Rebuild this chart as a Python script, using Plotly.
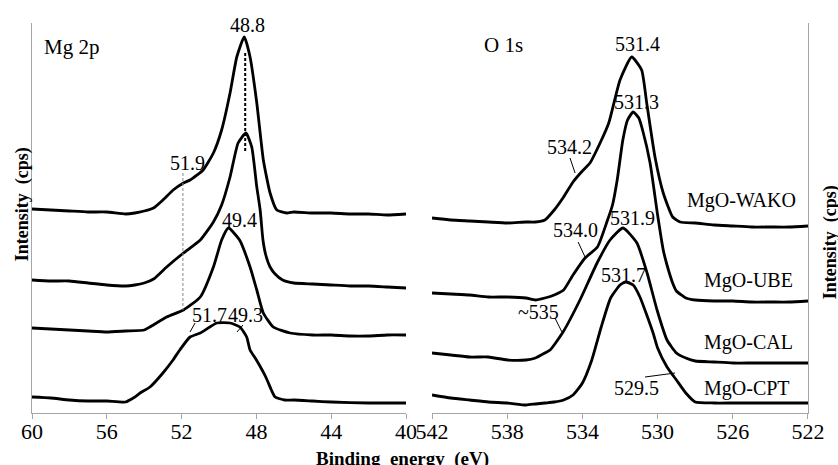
import plotly.graph_objects as go

# ---------------- data (Mg 2p panel) ----------------
mg_wako_e = [60, 59, 58, 57, 56, 55, 54.5, 54, 53.5, 53, 52.45, 51.9, 51.55, 50.85, 50.3, 49.86, 49.41, 49.05,
             48.65, 48.34, 47.98, 47.63, 47.27, 46.91, 46.38, 46, 45, 44, 43, 42, 41, 40]
mg_wako_i = [204, 203, 202, 201, 201, 199, 200, 202, 205, 213, 223, 230, 233, 243, 260, 283, 320, 356,
             376, 356, 310, 253, 220, 203, 200, 201, 200, 200, 199, 199, 198, 199]

mg_ube_e = [60, 59, 58, 57, 56, 55, 54.5, 54, 53.5, 52.8, 51.9, 51.0, 50.3, 49.86, 49.41, 48.98, 48.56, 48.25,
            47.98, 47.8, 47.65, 47.5, 47.27, 47, 46.6, 46, 45, 44, 43, 42, 41, 40]
mg_ube_i = [133, 132, 132, 130, 128, 127, 128, 130, 134, 146, 160, 173, 191, 208, 236, 270, 280, 266,
            226, 203, 173, 158, 146, 139, 133, 130, 129, 128, 127, 127, 126, 125]

mg_cal_e = [60, 59, 58, 57, 56, 55, 54, 53.7, 52.8, 51.9, 51.0, 50.3, 49.86, 49.5, 48.9, 48.34, 47.98, 47.63,
            47.1, 46.2, 45, 44, 43, 42, 41, 40]
mg_cal_i = [85, 84, 83, 82, 81, 82, 83, 86, 96, 103, 116, 146, 173, 185, 173, 146, 123, 100,
            86, 80, 78, 78, 77, 77, 78, 78]

mg_cpt_e = [60, 59, 58, 57, 56, 55, 54.5, 54.22, 53.69, 53.0, 52.46, 52.1, 51.55, 51.0, 50.12, 49.41, 48.88,
            48.52, 48.34, 48.0, 47.5, 47.2, 47.0, 46.5, 46, 45, 44, 42, 40]
mg_cpt_i = [16, 15, 13, 12, 12, 11, 16, 20, 26, 40, 53, 63, 76, 80, 90, 90, 86,
            76, 63, 53, 36, 23, 16, 13, 13, 12, 11, 10, 10]

# ---------------- data (O 1s panel) ----------------
o_wako_e = [542, 541, 540, 539, 538, 537, 536.5, 536, 535.5, 535, 534.5, 534.1, 533.6, 533.06, 532.6, 532,
            531.38, 530.85, 530.58, 530.14, 529.7, 529.2, 528.8, 528, 527, 526, 525, 524, 523, 522]
o_wako_i = [195, 193, 192, 191, 190, 191, 191, 193, 203, 216, 231, 240, 250, 270, 290, 333,
            356, 343, 310, 256, 220, 196, 191, 190, 188, 187, 186, 186, 186, 187]

o_ube_e = [542, 541, 540, 539, 538, 537, 536.5, 536, 535.5, 535, 534.5, 533.86, 533.2, 532.7, 532.4, 532.15,
           531.85, 531.6, 531.3, 531.0, 530.8, 530.4, 530.0, 529.7, 529.5, 529.2, 529.0, 528.5, 528, 527,
           526, 525, 524, 523, 522]
o_ube_i = [120, 119, 118, 116, 116, 115, 113, 115, 118, 123, 138, 155, 166, 191, 208, 233,
           273, 293, 301, 295, 283, 250, 198, 163, 148, 130, 122, 115, 113, 112,
           112, 111, 111, 111, 112]

o_cal_e = [542, 541, 540, 539, 538, 537, 536.5, 536, 535.72, 535.03, 534.13, 533.22, 532.53, 531.84, 531.1,
           530.56, 530.03, 529.5, 529.0, 528.5, 528, 527, 526, 525, 524, 523, 522]
o_cal_i = [60, 58, 56, 56, 53, 53, 55, 60, 63, 81, 113, 150, 173, 185, 170,
           140, 103, 73, 60, 55, 52, 51, 50, 50, 50, 50, 50]

o_cpt_e = [542, 541, 540, 539, 538, 537, 536.5, 536, 535.5, 535, 534.5, 534, 533.5, 533, 532.5, 532, 531.7,
           531.3, 530.94, 530.24, 530, 529.5, 529, 528.5, 528, 527, 526, 525, 524, 523, 522]
o_cpt_i = [18, 15, 13, 11, 10, 8, 9, 10, 11, 13, 18, 30, 53, 86, 115, 128, 131,
           128, 116, 80, 65, 46, 33, 20, 11, 10, 10, 10, 10, 10, 10]

sample_names = ["MgO-WAKO", "MgO-UBE", "MgO-CAL", "MgO-CPT"]

mg_ticks = [60, 56, 52, 48, 44, 40]
o_ticks = [542, 538, 534, 530, 526, 522]

# reference lines (energy, intensity from, intensity to)
mg_main_line = [48.6, 360, 260]
mg_shoulder_line = [51.93, 240, 103]

# ---------------- figure ----------------
FONT = "Liberation Serif"
AX = "#a6a6a6"

fig = go.Figure()

left_sets = [(mg_wako_e, mg_wako_i), (mg_ube_e, mg_ube_i), (mg_cal_e, mg_cal_i), (mg_cpt_e, mg_cpt_i)]
right_sets = [(o_wako_e, o_wako_i), (o_ube_e, o_ube_i), (o_cal_e, o_cal_i), (o_cpt_e, o_cpt_i)]

for name, (e, i) in zip(sample_names, left_sets):
    fig.add_trace(go.Scatter(x=e, y=i, mode="lines", name=name, xaxis="x", yaxis="y",
                             line=dict(color="black", width=2.8, shape="spline", smoothing=0.5),
                             showlegend=False, hoverinfo="skip"))
for name, (e, i) in zip(sample_names, right_sets):
    fig.add_trace(go.Scatter(x=e, y=i, mode="lines", name=name, xaxis="x2", yaxis="y2",
                             line=dict(color="black", width=2.8, shape="spline", smoothing=0.5),
                             showlegend=False, hoverinfo="skip"))

# dashed reference lines
fig.add_trace(go.Scatter(x=[mg_main_line[0]] * 2, y=mg_main_line[1:], mode="lines", xaxis="x", yaxis="y",
                         line=dict(color="black", width=2, dash="3px,2px"), showlegend=False, hoverinfo="skip"))
fig.add_trace(go.Scatter(x=[mg_shoulder_line[0]] * 2, y=mg_shoulder_line[1:], mode="lines", xaxis="x", yaxis="y",
                         line=dict(color="#888888", width=1, dash="3px,2px"), showlegend=False, hoverinfo="skip"))

# leader lines for peak labels
left_leaders = [([51.28, 51.55], [90, 81]), ([48.72, 49.04], [88, 81])]
right_leaders = [([534.66, 534.39], [255, 240]), ([534.23, 533.86], [171, 156]),
                 ([535.46, 535.09], [95, 81]), ([530.67, 529.07], [36, 40])]
for xs, ys in left_leaders:
    fig.add_trace(go.Scatter(x=xs, y=ys, mode="lines", xaxis="x", yaxis="y",
                             line=dict(color="black", width=1), showlegend=False, hoverinfo="skip"))
for xs, ys in right_leaders:
    fig.add_trace(go.Scatter(x=xs, y=ys, mode="lines", xaxis="x2", yaxis="y2",
                             line=dict(color="black", width=1), showlegend=False, hoverinfo="skip"))

ann = []
def txt(x, y, s, xr, yr, anchor="center", size=20):
    ann.append(dict(x=x, y=y, text=s, xref=xr, yref=yr, showarrow=False, xanchor=anchor, yanchor="middle",
                    font=dict(family=FONT, size=size, color="black")))

# left panel labels
txt(59.47, 366, "Mg 2p", "x", "y", "left", 21)
txt(48.5, 388, "48.8", "x", "y")
txt(51.71, 250, "51.9", "x", "y")
txt(48.93, 193, "49.4", "x", "y")
txt(50.53, 98, "51.7", "x", "y")
txt(48.61, 98, "49.3", "x", "y")
txt(39.36, 221, sample_names[0], "x", "y", "right")
txt(39.79, 150, sample_names[1], "x", "y", "right")
txt(39.9, 95, sample_names[2], "x", "y", "right")
txt(39.95, 31, sample_names[3], "x", "y", "right")

# right panel labels
txt(539.34, 368, "O 1s", "x2", "y2", "left", 21)
txt(531.07, 369, "531.4", "x2", "y2")
txt(531.1, 311, "531.3", "x2", "y2")
txt(534.71, 266, "534.2", "x2", "y2")
txt(531.31, 195, "531.9", "x2", "y2")
txt(534.39, 183, "534.0", "x2", "y2")
txt(536.36, 101, "~535", "x2", "y2")
txt(531.79, 138, "531.7", "x2", "y2")
txt(531.1, 25, "529.5", "x2", "y2")
txt(522.53, 213, sample_names[0], "x2", "y2", "right")
txt(522.69, 133, sample_names[1], "x2", "y2", "right")
txt(522.69, 71, sample_names[2], "x2", "y2", "right")
txt(522.85, 25, sample_names[3], "x2", "y2", "right")

# axis titles
ann.append(dict(x=-0.0129, y=0.535, xref="paper", yref="paper", text="<b>Intensity  (cps)</b>", textangle=-90,
                showarrow=False, xanchor="center", yanchor="middle", font=dict(family=FONT, size=18, color="black")))
ann.append(dict(x=1.0283, y=0.438, xref="paper", yref="paper", text="<b>Intensity  (cps)</b>", textangle=-90,
                showarrow=False, xanchor="center", yanchor="middle", font=dict(family=FONT, size=18, color="black")))
ann.append(dict(x=0.478, y=-0.118, xref="paper", yref="paper", text="<b>Binding  energy  (eV)</b>",
                showarrow=False, xanchor="center", yanchor="middle", font=dict(family=FONT, size=19, color="black")))

xcommon = dict(showgrid=False, zeroline=False, showline=True, linecolor=AX, linewidth=1,
               ticks="outside", ticklen=5, tickcolor=AX, tickwidth=1, ticklabelstandoff=-6,
               tickfont=dict(family=FONT, size=22, color="black"), tickmode="array")
ycommon = dict(showgrid=False, zeroline=False, showline=True, linecolor=AX, linewidth=1,
               showticklabels=False, ticks="", range=[0, 390])

fig.update_layout(
    width=838, height=465,
    margin=dict(l=32, r=30, t=23, b=52),
    paper_bgcolor="white", plot_bgcolor="white",
    font=dict(family=FONT),
    xaxis=dict(domain=[0, 0.482], range=[60, 40], tickvals=mg_ticks, ticktext=[str(t) for t in mg_ticks],
               anchor="y", **xcommon),
    xaxis2=dict(domain=[0.5155, 1.0], range=[542, 522], tickvals=o_ticks, ticktext=[str(t) for t in o_ticks],
                anchor="y2", **xcommon),
    yaxis=dict(domain=[0, 1], anchor="x", side="left", **ycommon),
    yaxis2=dict(domain=[0, 1], anchor="x2", side="right", **ycommon),
    annotations=ann,
    showlegend=False,
)

fig.write_html("out.html")
